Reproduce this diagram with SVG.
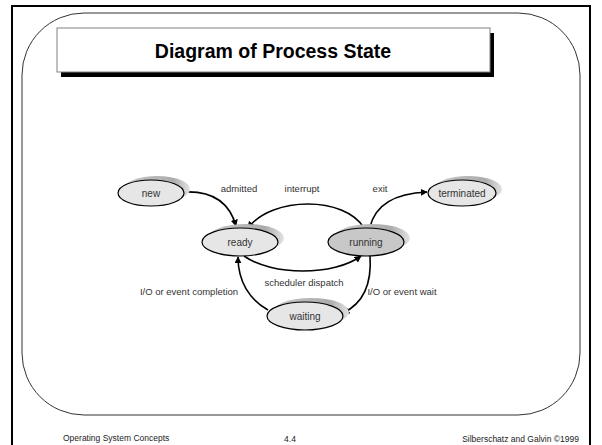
<svg xmlns="http://www.w3.org/2000/svg" width="602" height="445" viewBox="0 0 602 445">
<style>
text{font-family:"Liberation Sans",Arial,sans-serif;}
.lbl{font-size:9.5px;fill:#333;text-anchor:middle;}
.nl{font-size:10px;fill:#333;text-anchor:middle;}
.node{fill:#e6e6e6;stroke:#000;stroke-width:1.2;}
.shadow{fill:url(#sh);}
.edge{fill:none;stroke:#000;stroke-width:1.6;marker-end:url(#arr);}
.foot{font-size:8.5px;fill:#222;}
</style>
<defs>
<linearGradient id="sh" x1="0" y1="0" x2="1" y2="0">
<stop offset="0" stop-color="#c8c8c8"/>
<stop offset="0.75" stop-color="#acacac"/>
<stop offset="1" stop-color="#e2e2e2"/>
</linearGradient>
<marker id="arr" viewBox="0 0 10 10" refX="9" refY="5" markerWidth="7" markerHeight="7" markerUnits="userSpaceOnUse" orient="auto">
<path d="M0,0 L10,5 L0,10 z" fill="#000"/>
</marker>
</defs>
<rect x="0" y="0" width="602" height="445" fill="#fff"/>
<path d="M12,445 V6 H590 V445" fill="none" stroke="#000" stroke-width="2"/>
<rect x="22" y="13" width="558" height="402" rx="62" ry="62" fill="none" stroke="#333" stroke-width="1"/>
<g id="title">
<rect x="61" y="33" width="433" height="44" fill="#000"/>
<rect x="57" y="28" width="433" height="44" fill="#fff" stroke="#808080" stroke-width="1"/>
<text x="273" y="58" font-size="19.5" font-weight="bold" text-anchor="middle" fill="#000">Diagram of Process State</text>
</g>
<g id="connectors">
<path class="edge" d="M184,192 Q226,190 236,226"/>
<path class="edge" d="M364,228 C345,196 272,196 248,228"/>
<path class="edge" d="M370,227 Q378,194 427,192"/>
<path class="edge" d="M244,256 C272,276 334,276 361,256"/>
<path class="edge" d="M370,256 C372,285 362,304 343,313"/>
<path class="edge" d="M268,310 C250,300 238,282 238,257"/>
<text class="lbl" x="239" y="192">admitted</text>
<text class="lbl" x="302" y="192">interrupt</text>
<text class="lbl" x="380" y="192">exit</text>
<text class="lbl" x="304" y="286">scheduler dispatch</text>
<text class="lbl" x="189" y="295">I/O or event completion</text>
<text class="lbl" x="402" y="295">I/O or event wait</text>
</g>
<g id="new">
<ellipse class="shadow" cx="157" cy="189" rx="33" ry="13"/>
<ellipse class="node" cx="151" cy="193" rx="33" ry="13"/>
<text class="nl" x="151" y="196.5">new</text>
</g>
<g id="terminated">
<ellipse class="shadow" cx="468" cy="189" rx="34" ry="13"/>
<ellipse class="node" cx="462" cy="193" rx="34" ry="13"/>
<text class="nl" x="462" y="196.5">terminated</text>
</g>
<g id="ready">
<ellipse class="shadow" cx="246" cy="238" rx="38" ry="14"/>
<ellipse class="node" cx="240" cy="242" rx="38" ry="14"/>
<text class="nl" x="240" y="245.5">ready</text>
</g>
<g id="running">
<ellipse class="shadow" cx="372" cy="238" rx="38" ry="14"/>
<ellipse class="node" cx="366" cy="242" rx="38" ry="14" style="fill:#c8c8c8"/>
<text class="nl" x="366" y="245.5">running</text>
</g>
<g id="waiting">
<ellipse class="shadow" cx="311" cy="312" rx="38" ry="14"/>
<ellipse class="node" cx="305" cy="316" rx="38" ry="14"/>
<text class="nl" x="305" y="319.5">waiting</text>
</g>
<g id="footer">
<text class="foot" x="63" y="441">Operating System Concepts</text>
<text class="foot" x="290" y="442" text-anchor="middle">4.4</text>
<text class="foot" x="579" y="442" text-anchor="end">Silberschatz and Galvin ©1999</text>
</g>
</svg>
